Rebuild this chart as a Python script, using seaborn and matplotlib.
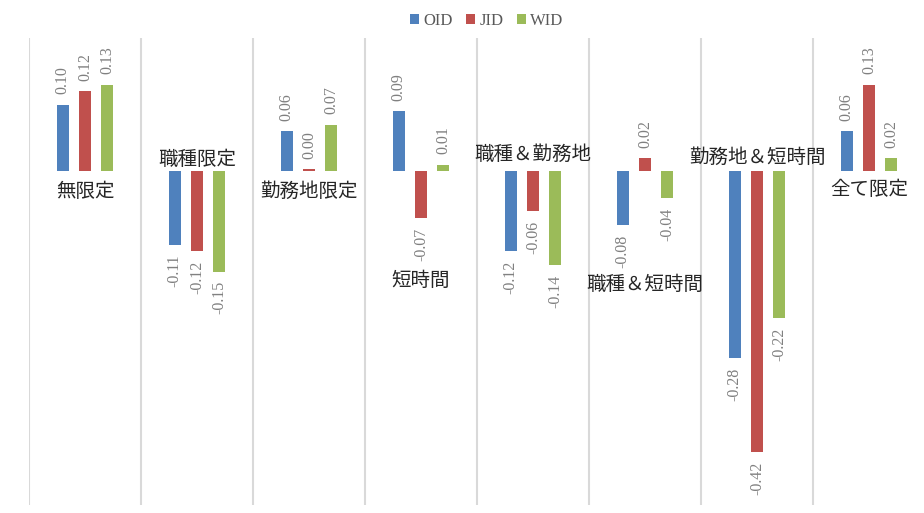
import matplotlib
matplotlib.use("Agg")
import matplotlib.pyplot as plt
import seaborn as sns
import pandas as pd

categories = ["無限定", "職種限定", "勤務地限定", "短時間", "職種＆勤務地", "職種＆短時間", "勤務地＆短時間", "全て限定"]
series_names = ["OID", "JID", "WID"]
oid = [0.10, -0.11, 0.06, 0.09, -0.12, -0.08, -0.28, 0.06]
jid = [0.12, -0.12, 0.003, -0.07, -0.06, 0.02, -0.42, 0.13]
wid = [0.13, -0.15, 0.07, 0.01, -0.14, -0.04, -0.22, 0.02]
# vertical placement of the category name text (data units)
cat_label_y = [-0.030, 0.018, -0.030, -0.163, 0.025, -0.170, 0.021, -0.027]

colors = ["#4F81BD", "#C0504D", "#9BBB59"]

rows = []
for name, vals in zip(series_names, [oid, jid, wid]):
    for c, v in zip(categories, vals):
        rows.append({"cat": c, "series": name, "value": v})
df = pd.DataFrame(rows)

sns.set_theme(style="white")
plt.rcParams["font.family"] = ["Noto Sans CJK JP", "DejaVu Sans"]

fig = plt.figure(figsize=(9.24, 5.13), dpi=100)
ax = fig.add_axes([29 / 924, 8 / 513, 896 / 924, 467 / 513])

sns.barplot(data=df, x="cat", y="value", hue="series", order=categories,
            hue_order=series_names, palette=colors, width=0.6, gap=0.46,
            saturation=1, ax=ax, legend=True, edgecolor="none")

ax.set_xlim(-0.5, 7.5)
ax.set_ylim(-0.5, 0.2)
for k in range(8):
    ax.axvline(k - 0.5, color="#D9D9D9", lw=1.5, zorder=0)
for s in ax.spines.values():
    s.set_visible(False)
ax.set_xticks([])
ax.set_yticks([])
ax.set_xlabel("")
ax.set_ylabel("")

serif = ["Liberation Serif", "DejaVu Serif"]
for cont in ax.containers:
    for bar in cont:
        h = bar.get_height()
        x = bar.get_x() + bar.get_width() / 2
        txt = f"{h:.2f}"
        if h >= 0:
            ax.annotate(txt, (x, h), xytext=(0, 7.5), textcoords="offset points",
                        rotation=90, ha="center", va="bottom", color="#808080",
                        fontsize=11.5, family=serif)
        else:
            ax.annotate(txt, (x, h), xytext=(0, -7), textcoords="offset points",
                        rotation=90, ha="center", va="top", color="#808080",
                        fontsize=11.5, family=serif)

for i, (c, y) in enumerate(zip(categories, cat_label_y)):
    ax.text(i, y, c, ha="center", va="center", fontsize=14, color="#262626",
            family=["Noto Sans CJK JP", "DejaVu Sans"])

leg = ax.legend(loc="upper center", bbox_to_anchor=(0.511, 1.085), ncol=3,
                frameon=False, handlelength=0.55, handleheight=0.55, handletextpad=0.25,
                columnspacing=0.8, prop={"family": serif, "size": 12})
for t in leg.get_texts():
    t.set_color("#595959")

fig.savefig("out.png", dpi=100)
